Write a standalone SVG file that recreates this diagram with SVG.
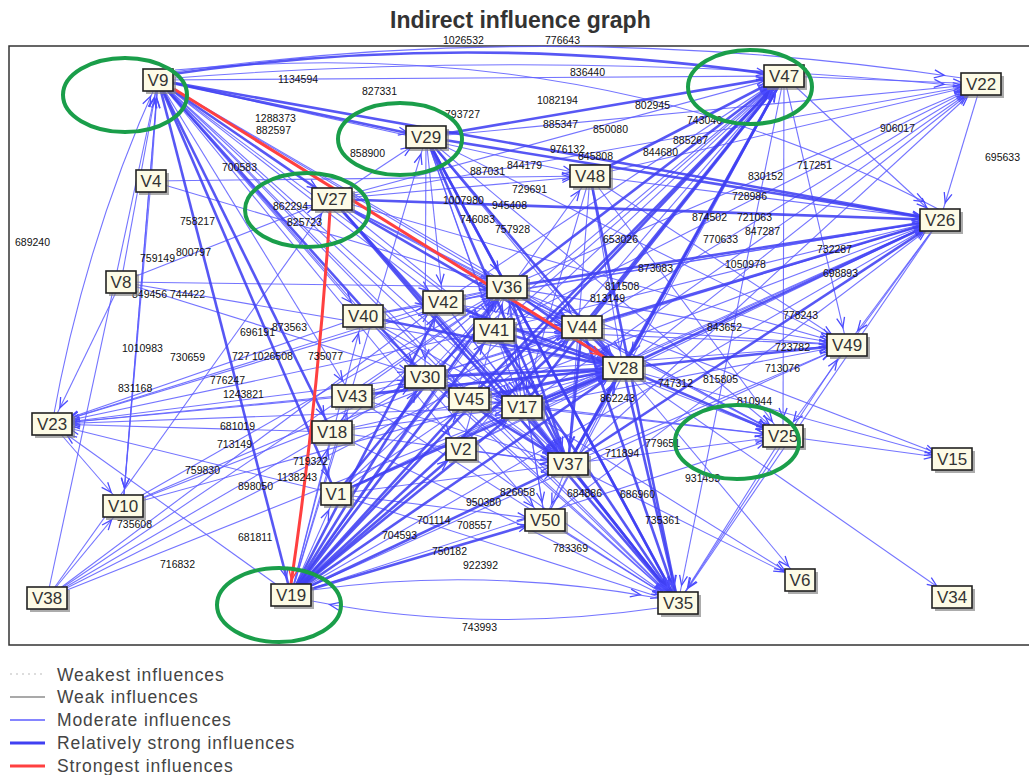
<svg xmlns="http://www.w3.org/2000/svg" width="1029" height="775" viewBox="0 0 1029 775">
<defs>
<style>
.frame{fill:#fff;stroke:#333;stroke-width:1.5}
.title{font-family:"Liberation Sans",Arial,sans-serif;font-weight:bold;font-size:23px;fill:#333}
.m{fill:none;stroke:#5c5cff;stroke-width:1.1;stroke-opacity:0.85;marker-end:url(#a)}
.s{fill:none;stroke:#4040f2;stroke-width:2.6;stroke-opacity:0.88;marker-end:url(#a)}
.r{fill:none;stroke:#ff4040;stroke-width:3;marker-end:url(#ar)}
.lbl{font-family:"Liberation Sans",Arial,sans-serif;font-size:10.5px;fill:#111}
.node rect.b{fill:#fdfbe6;stroke:#222;stroke-width:1.6}
.node rect.sh{fill:#808080;opacity:0.65}
.node text{font-family:"Liberation Sans",Arial,sans-serif;font-size:17px;fill:#333;text-anchor:middle}
.hl{fill:none;stroke:#1a9e4a;stroke-width:4}
.leg{font-family:"Liberation Sans",Arial,sans-serif;font-size:17.5px;letter-spacing:0.9px;fill:#444}
</style>
<marker id="a" markerUnits="userSpaceOnUse" markerWidth="40" markerHeight="12" viewBox="-2 -6 40 12" refX="28" refY="0" orient="auto" overflow="visible"><path d="M0,-4L10,0L0,4" fill="none" stroke="#4c4cff" stroke-width="1.3"/></marker>
<marker id="ar" markerUnits="userSpaceOnUse" markerWidth="40" markerHeight="12" viewBox="-2 -6 40 12" refX="14" refY="0" orient="auto" overflow="visible"><path d="M0,-4L10,0L0,4" fill="none" stroke="#ff4040" stroke-width="1.4"/></marker>
</defs>
<rect x="0" y="0" width="1029" height="775" fill="#fff"/>
<text class="title" x="390" y="28">Indirect influence graph</text>
<rect class="frame" x="9" y="46" width="1035" height="599"/>
<g id="connectors">
<g class="m">
<path d="M173 72Q560 18 962 78"/><path d="M175 78Q560 48 962 86"/><path d="M175 70Q600 30 940 210"/>
<path d="M158 80L784 76"/><path d="M158 80L590 176"/><path d="M158 80L507 287"/><path d="M158 80L443 302"/><path d="M158 80L363 316"/><path d="M158 80L494 330"/><path d="M158 80L352 396"/><path d="M158 80L582 327"/><path d="M158 80L522 407"/><path d="M158 80L469 399"/><path d="M158 80L461 449"/><path d="M158 80L568 464"/><path d="M158 80L123 506"/><path d="M158 80L545 520"/><path d="M158 80L678 603"/>
<path d="M151 181L158 80"/><path d="M121 282L158 80"/><path d="M52 424Q85 240 158 80"/><path d="M123 506L158 80"/><path d="M47 598L158 80"/>
<path d="M151 181L123 506"/><path d="M151 181L590 176"/><path d="M151 181L507 287"/>
<path d="M121 282L332 199"/><path d="M121 282L507 287"/><path d="M121 282L623 368"/><path d="M121 282L52 424"/><path d="M121 282L425 377"/>
<path d="M623 368L52 424"/><path d="M507 287L52 424"/><path d="M425 377L52 424"/><path d="M443 302L52 424"/><path d="M352 396L52 424"/><path d="M332 432L52 424"/><path d="M363 316L52 424"/><path d="M494 330L52 424"/><path d="M291 595L52 424"/><path d="M336 494L52 424"/><path d="M52 424L123 506"/><path d="M522 407L52 424"/>
<path d="M123 506L623 368"/><path d="M123 506L507 287"/><path d="M123 506L425 377"/><path d="M123 506L582 327"/>
<path d="M47 598L332 199"/><path d="M47 598L623 368"/><path d="M47 598L507 287"/><path d="M47 598L425 377"/><path d="M47 598L582 327"/><path d="M47 598L443 302"/><path d="M47 598L123 506"/>
<path d="M332 199L784 76"/><path d="M332 199L981 84"/><path d="M332 199L507 287"/><path d="M332 199L582 327"/><path d="M332 199L522 407"/><path d="M332 199L590 176"/><path d="M332 199L426 137"/><path d="M332 199L847 345"/><path d="M332 199L783 436"/><path d="M332 199L494 330"/>
<path d="M426 137L981 84"/><path d="M426 137L582 327"/><path d="M426 137L522 407"/><path d="M426 137L847 345"/><path d="M426 137L783 436"/><path d="M426 137L494 330"/><path d="M426 137L425 377"/><path d="M426 137L443 302"/>
<path d="M590 176L940 220"/><path d="M590 176L981 84"/><path d="M590 176L623 368"/><path d="M590 176L568 464"/><path d="M590 176L783 436"/><path d="M590 176L847 345"/><path d="M590 176L522 407"/>
<path d="M784 76L981 84"/><path d="M784 76L940 220"/><path d="M784 76L678 603"/><path d="M784 76L783 436"/><path d="M784 76L847 345"/><path d="M784 76L623 368"/>
<path d="M494 330L784 76"/><path d="M443 302L784 76"/><path d="M425 377L784 76"/><path d="M336 494L784 76"/><path d="M461 449L784 76"/><path d="M545 520L784 76"/>
<path d="M981 84L940 220"/><path d="M507 287L981 84"/><path d="M623 368L981 84"/><path d="M582 327L981 84"/><path d="M522 407L981 84"/><path d="M494 330L981 84"/><path d="M568 464L981 84"/>
<path d="M522 407L940 220"/><path d="M494 330L940 220"/><path d="M443 302L940 220"/><path d="M291 595L940 220"/><path d="M336 494L940 220"/><path d="M425 377L940 220"/><path d="M469 399L940 220"/><path d="M461 449L940 220"/><path d="M545 520L940 220"/><path d="M363 316L940 220"/>
<path d="M940 220L847 345"/><path d="M940 220L783 436"/><path d="M940 220L678 603"/>
<path d="M507 287L847 345"/><path d="M582 327L847 345"/><path d="M494 330L847 345"/><path d="M522 407L847 345"/><path d="M568 464L847 345"/><path d="M291 595L847 345"/><path d="M425 377L847 345"/><path d="M678 603L847 345"/>
<path d="M507 287L783 436"/><path d="M522 407L783 436"/><path d="M568 464L783 436"/><path d="M582 327L783 436"/><path d="M291 595L783 436"/><path d="M469 399L783 436"/><path d="M443 302L783 436"/>
<path d="M783 436L952 459"/><path d="M623 368L952 459"/><path d="M507 287L952 459"/><path d="M623 368L952 597"/>
<path d="M568 464L800 580"/><path d="M623 368L800 580"/><path d="M522 407L800 580"/>
<path d="M443 302L678 603"/><path d="M469 399L678 603"/><path d="M461 449L678 603"/><path d="M425 377L678 603"/><path d="M545 520L678 603"/><path d="M336 494L678 603"/><path d="M332 432L678 603"/><path d="M352 396L678 603"/><path d="M363 316L678 603"/><path d="M783 436L678 603"/>
<path d="M312 590Q480 566 658 598"/><path d="M658 608Q480 634 312 601"/>
<path d="M291 595L426 137"/><path d="M291 595L590 176"/><path d="M291 595L363 316"/><path d="M291 595L352 396"/><path d="M291 595L332 432"/><path d="M291 595L336 494"/>
<path d="M336 494L568 464"/><path d="M336 494L522 407"/><path d="M336 494L582 327"/><path d="M336 494L545 520"/>
<path d="M332 432L623 368"/><path d="M332 432L507 287"/><path d="M332 432L568 464"/><path d="M332 432L522 407"/>
<path d="M352 396L507 287"/><path d="M352 396L568 464"/><path d="M363 316L507 287"/><path d="M363 316L568 464"/><path d="M363 316L522 407"/>
<path d="M443 302L582 327"/><path d="M443 302L568 464"/><path d="M507 287L582 327"/><path d="M507 287L522 407"/><path d="M507 287L545 520"/>
<path d="M425 377L507 287"/><path d="M425 377L582 327"/><path d="M469 399L568 464"/><path d="M461 449L623 368"/><path d="M461 449L568 464"/><path d="M461 449L507 287"/>
<path d="M568 464L545 520"/><path d="M545 520L623 368"/><path d="M545 520L507 287"/>
<path d="M494 330L582 327"/><path d="M443 302L507 287"/><path d="M363 316L443 302"/><path d="M425 377L522 407"/><path d="M469 399L522 407"/><path d="M352 396L425 377"/>
</g>
<g class="s">
<path d="M173 74Q470 30 784 76"/>
<path d="M158 80L426 137"/><path d="M158 80L332 199"/><path d="M158 80L940 220"/><path d="M158 80L425 377"/><path d="M158 80L332 432"/><path d="M158 80L336 494"/><path d="M158 80L291 595"/>
<path d="M332 199L940 220"/><path d="M332 199L623 368"/><path d="M332 199L678 603"/><path d="M332 199L568 464"/>
<path d="M426 137L784 76"/><path d="M426 137L940 220"/><path d="M426 137L623 368"/><path d="M426 137L678 603"/><path d="M426 137L507 287"/><path d="M426 137L568 464"/>
<path d="M590 176L784 76"/><path d="M590 176L678 603"/>
<path d="M507 287L784 76"/><path d="M582 327L784 76"/><path d="M623 368L784 76"/><path d="M568 464L784 76"/><path d="M522 407L784 76"/><path d="M291 595L784 76"/><path d="M469 399L784 76"/>
<path d="M507 287L940 220"/><path d="M623 368L940 220"/><path d="M582 327L940 220"/><path d="M568 464L940 220"/>
<path d="M623 368L847 345"/><path d="M623 368L783 436"/><path d="M623 368L678 603"/><path d="M507 287L678 603"/><path d="M582 327L678 603"/><path d="M522 407L678 603"/><path d="M568 464L678 603"/><path d="M494 330L678 603"/>
<path d="M291 595L623 368"/><path d="M291 595L507 287"/><path d="M291 595L582 327"/><path d="M291 595L522 407"/><path d="M291 595L568 464"/><path d="M291 595L494 330"/><path d="M291 595L443 302"/><path d="M291 595L469 399"/><path d="M291 595L461 449"/><path d="M291 595L425 377"/><path d="M291 595L545 520"/>
<path d="M336 494L623 368"/><path d="M336 494L507 287"/><path d="M352 396L623 368"/><path d="M363 316L623 368"/><path d="M443 302L623 368"/><path d="M494 330L623 368"/><path d="M494 330L568 464"/>
<path d="M507 287L623 368"/><path d="M507 287L568 464"/><path d="M425 377L623 368"/><path d="M425 377L568 464"/><path d="M469 399L623 368"/><path d="M522 407L623 368"/><path d="M582 327L623 368"/><path d="M582 327L568 464"/><path d="M568 464L623 368"/>
</g>
<g class="r">
<path d="M174 89L604 357"/>
<path d="M330 211Q318 400 291 584"/>
</g>
</g>
<g id="edge-labels" class="lbl">
<text x="443" y="44">1026532</text><text x="545" y="44">776643</text>
<text x="278" y="83">1134594</text><text x="362" y="95">827331</text><text x="445" y="118">793727</text>
<text x="255" y="122">1288373</text><text x="256" y="134">882597</text><text x="222" y="171">700583</text>
<text x="180" y="225">758217</text><text x="15" y="246">689240</text><text x="273" y="210">862294</text>
<text x="287" y="226">825723</text><text x="350" y="157">858900</text>
<text x="570" y="76">836440</text><text x="537" y="104">1082194</text><text x="635" y="109">802945</text>
<text x="543" y="128">885347</text><text x="593" y="133">850080</text><text x="687" y="124">743046</text>
<text x="673" y="144">885267</text><text x="550" y="153">976132</text><text x="578" y="160">845808</text>
<text x="643" y="156">844680</text><text x="880" y="132">906017</text><text x="985" y="161">695633</text>
<text x="797" y="169">717251</text><text x="748" y="180">830152</text><text x="732" y="200">728986</text>
<text x="692" y="221">874502</text><text x="737" y="221">721063</text><text x="745" y="235">847287</text>
<text x="703" y="243">770633</text><text x="817" y="253">732287</text>
<text x="470" y="175">887031</text><text x="507" y="169">844179</text><text x="512" y="193">729691</text>
<text x="443" y="204">1007980</text><text x="492" y="209">945408</text><text x="460" y="223">746083</text>
<text x="495" y="233">757928</text><text x="603" y="243">653026</text>
<text x="638" y="272">873083</text><text x="725" y="268">1050978</text><text x="823" y="277">698893</text>
<text x="605" y="290">811508</text><text x="590" y="302">813149</text><text x="783" y="319">778243</text>
<text x="707" y="331">843652</text><text x="775" y="351">723782</text><text x="765" y="372">713076</text>
<text x="658" y="387">747312</text><text x="703" y="383">815805</text><text x="737" y="405">810944</text>
<text x="600" y="402">862243</text><text x="645" y="447">779651</text><text x="605" y="457">711894</text>
<text x="685" y="482">931453</text><text x="620" y="498">686960</text><text x="567" y="497">684886</text>
<text x="645" y="524">735361</text><text x="553" y="552">783369</text>
<text x="140" y="262">759149</text><text x="176" y="256">800797</text><text x="132" y="298">849456</text>
<text x="170" y="298">744422</text><text x="122" y="352">1010983</text><text x="170" y="361">730659</text>
<text x="118" y="392">831168</text><text x="210" y="384">776247</text><text x="223" y="398">1243821</text>
<text x="220" y="430">681019</text><text x="217" y="448">713149</text><text x="185" y="474">759830</text>
<text x="238" y="490">898050</text><text x="277" y="481">1138243</text><text x="293" y="465">719322</text>
<text x="240" y="336">696191</text><text x="272" y="331">873563</text><text x="232" y="360">727</text>
<text x="252" y="360">1026508</text><text x="308" y="360">735077</text>
<text x="117" y="528">735608</text><text x="238" y="541">681811</text><text x="160" y="568">716832</text>
<text x="417" y="524">701114</text><text x="457" y="529">708557</text><text x="382" y="539">704593</text>
<text x="432" y="555">750182</text><text x="463" y="569">922392</text><text x="462" y="631">743993</text>
<text x="466" y="506">950380</text><text x="500" y="496">826058</text>
</g>
<g id="nodes">
<g id="V9" class="node"><rect class="sh" x="146" y="72" width="30" height="22"/><rect class="b" x="143" y="69" width="30" height="22"/><text x="158" y="86">V9</text></g>
<g id="V4" class="node"><rect class="sh" x="139" y="173" width="30" height="22"/><rect class="b" x="136" y="170" width="30" height="22"/><text x="151" y="187">V4</text></g>
<g id="V27" class="node"><rect class="sh" x="315" y="191" width="40" height="22"/><rect class="b" x="312" y="188" width="40" height="22"/><text x="332" y="205">V27</text></g>
<g id="V29" class="node"><rect class="sh" x="409" y="129" width="40" height="22"/><rect class="b" x="406" y="126" width="40" height="22"/><text x="426" y="143">V29</text></g>
<g id="V47" class="node"><rect class="sh" x="767" y="68" width="40" height="22"/><rect class="b" x="764" y="65" width="40" height="22"/><text x="784" y="82">V47</text></g>
<g id="V22" class="node"><rect class="sh" x="964" y="76" width="40" height="22"/><rect class="b" x="961" y="73" width="40" height="22"/><text x="981" y="90">V22</text></g>
<g id="V48" class="node"><rect class="sh" x="573" y="168" width="40" height="22"/><rect class="b" x="570" y="165" width="40" height="22"/><text x="590" y="182">V48</text></g>
<g id="V26" class="node"><rect class="sh" x="923" y="212" width="40" height="22"/><rect class="b" x="920" y="209" width="40" height="22"/><text x="940" y="226">V26</text></g>
<g id="V8" class="node"><rect class="sh" x="109" y="274" width="30" height="22"/><rect class="b" x="106" y="271" width="30" height="22"/><text x="121" y="288">V8</text></g>
<g id="V40" class="node"><rect class="sh" x="346" y="308" width="40" height="22"/><rect class="b" x="343" y="305" width="40" height="22"/><text x="363" y="322">V40</text></g>
<g id="V42" class="node"><rect class="sh" x="426" y="294" width="40" height="22"/><rect class="b" x="423" y="291" width="40" height="22"/><text x="443" y="308">V42</text></g>
<g id="V36" class="node"><rect class="sh" x="490" y="279" width="40" height="22"/><rect class="b" x="487" y="276" width="40" height="22"/><text x="507" y="293">V36</text></g>
<g id="V41" class="node"><rect class="sh" x="477" y="322" width="40" height="22"/><rect class="b" x="474" y="319" width="40" height="22"/><text x="494" y="336">V41</text></g>
<g id="V44" class="node"><rect class="sh" x="565" y="319" width="40" height="22"/><rect class="b" x="562" y="316" width="40" height="22"/><text x="582" y="333">V44</text></g>
<g id="V28" class="node"><rect class="sh" x="606" y="360" width="40" height="22"/><rect class="b" x="603" y="357" width="40" height="22"/><text x="623" y="374">V28</text></g>
<g id="V49" class="node"><rect class="sh" x="830" y="337" width="40" height="22"/><rect class="b" x="827" y="334" width="40" height="22"/><text x="847" y="351">V49</text></g>
<g id="V30" class="node"><rect class="sh" x="408" y="369" width="40" height="22"/><rect class="b" x="405" y="366" width="40" height="22"/><text x="425" y="383">V30</text></g>
<g id="V43" class="node"><rect class="sh" x="335" y="388" width="40" height="22"/><rect class="b" x="332" y="385" width="40" height="22"/><text x="352" y="402">V43</text></g>
<g id="V45" class="node"><rect class="sh" x="452" y="391" width="40" height="22"/><rect class="b" x="449" y="388" width="40" height="22"/><text x="469" y="405">V45</text></g>
<g id="V17" class="node"><rect class="sh" x="505" y="399" width="40" height="22"/><rect class="b" x="502" y="396" width="40" height="22"/><text x="522" y="413">V17</text></g>
<g id="V23" class="node"><rect class="sh" x="35" y="416" width="40" height="22"/><rect class="b" x="32" y="413" width="40" height="22"/><text x="52" y="430">V23</text></g>
<g id="V18" class="node"><rect class="sh" x="315" y="424" width="40" height="22"/><rect class="b" x="312" y="421" width="40" height="22"/><text x="332" y="438">V18</text></g>
<g id="V2" class="node"><rect class="sh" x="449" y="441" width="30" height="22"/><rect class="b" x="446" y="438" width="30" height="22"/><text x="461" y="455">V2</text></g>
<g id="V25" class="node"><rect class="sh" x="766" y="428" width="40" height="22"/><rect class="b" x="763" y="425" width="40" height="22"/><text x="783" y="442">V25</text></g>
<g id="V15" class="node"><rect class="sh" x="935" y="451" width="40" height="22"/><rect class="b" x="932" y="448" width="40" height="22"/><text x="952" y="465">V15</text></g>
<g id="V37" class="node"><rect class="sh" x="551" y="456" width="40" height="22"/><rect class="b" x="548" y="453" width="40" height="22"/><text x="568" y="470">V37</text></g>
<g id="V1" class="node"><rect class="sh" x="324" y="486" width="30" height="22"/><rect class="b" x="321" y="483" width="30" height="22"/><text x="336" y="500">V1</text></g>
<g id="V10" class="node"><rect class="sh" x="106" y="498" width="40" height="22"/><rect class="b" x="103" y="495" width="40" height="22"/><text x="123" y="512">V10</text></g>
<g id="V50" class="node"><rect class="sh" x="528" y="512" width="40" height="22"/><rect class="b" x="525" y="509" width="40" height="22"/><text x="545" y="526">V50</text></g>
<g id="V38" class="node"><rect class="sh" x="30" y="590" width="40" height="22"/><rect class="b" x="27" y="587" width="40" height="22"/><text x="47" y="604">V38</text></g>
<g id="V19" class="node"><rect class="sh" x="274" y="587" width="40" height="22"/><rect class="b" x="271" y="584" width="40" height="22"/><text x="291" y="601">V19</text></g>
<g id="V35" class="node"><rect class="sh" x="661" y="595" width="40" height="22"/><rect class="b" x="658" y="592" width="40" height="22"/><text x="678" y="609">V35</text></g>
<g id="V6" class="node"><rect class="sh" x="788" y="572" width="30" height="22"/><rect class="b" x="785" y="569" width="30" height="22"/><text x="800" y="586">V6</text></g>
<g id="V34" class="node"><rect class="sh" x="935" y="589" width="40" height="22"/><rect class="b" x="932" y="586" width="40" height="22"/><text x="952" y="603">V34</text></g>
</g>
<g id="highlights">
<ellipse class="hl" cx="125" cy="95" rx="62" ry="37"/>
<ellipse class="hl" cx="400" cy="139" rx="62" ry="36"/>
<ellipse class="hl" cx="307" cy="210" rx="62" ry="37"/>
<ellipse class="hl" cx="750" cy="87" rx="62" ry="37"/>
<ellipse class="hl" cx="737" cy="442" rx="62" ry="37"/>
<ellipse class="hl" cx="279" cy="605" rx="62" ry="37"/>
</g>
<g id="legend">
<line x1="10" y1="674" x2="42" y2="674" stroke="#bbb" stroke-width="1.2" stroke-dasharray="2 4"/>
<text class="leg" x="57" y="681">Weakest influences</text>
<line x1="10" y1="697" x2="45" y2="697" stroke="#555" stroke-width="1.2"/>
<text class="leg" x="57" y="703">Weak influences</text>
<line x1="10" y1="720" x2="45" y2="720" stroke="#5c5cff" stroke-width="1.3"/>
<text class="leg" x="57" y="726">Moderate influences</text>
<line x1="10" y1="743" x2="45" y2="743" stroke="#4040f2" stroke-width="3"/>
<text class="leg" x="57" y="749">Relatively strong influences</text>
<line x1="10" y1="766" x2="45" y2="766" stroke="#ff4040" stroke-width="3"/>
<text class="leg" x="57" y="772">Strongest influences</text>
</g>
</svg>
